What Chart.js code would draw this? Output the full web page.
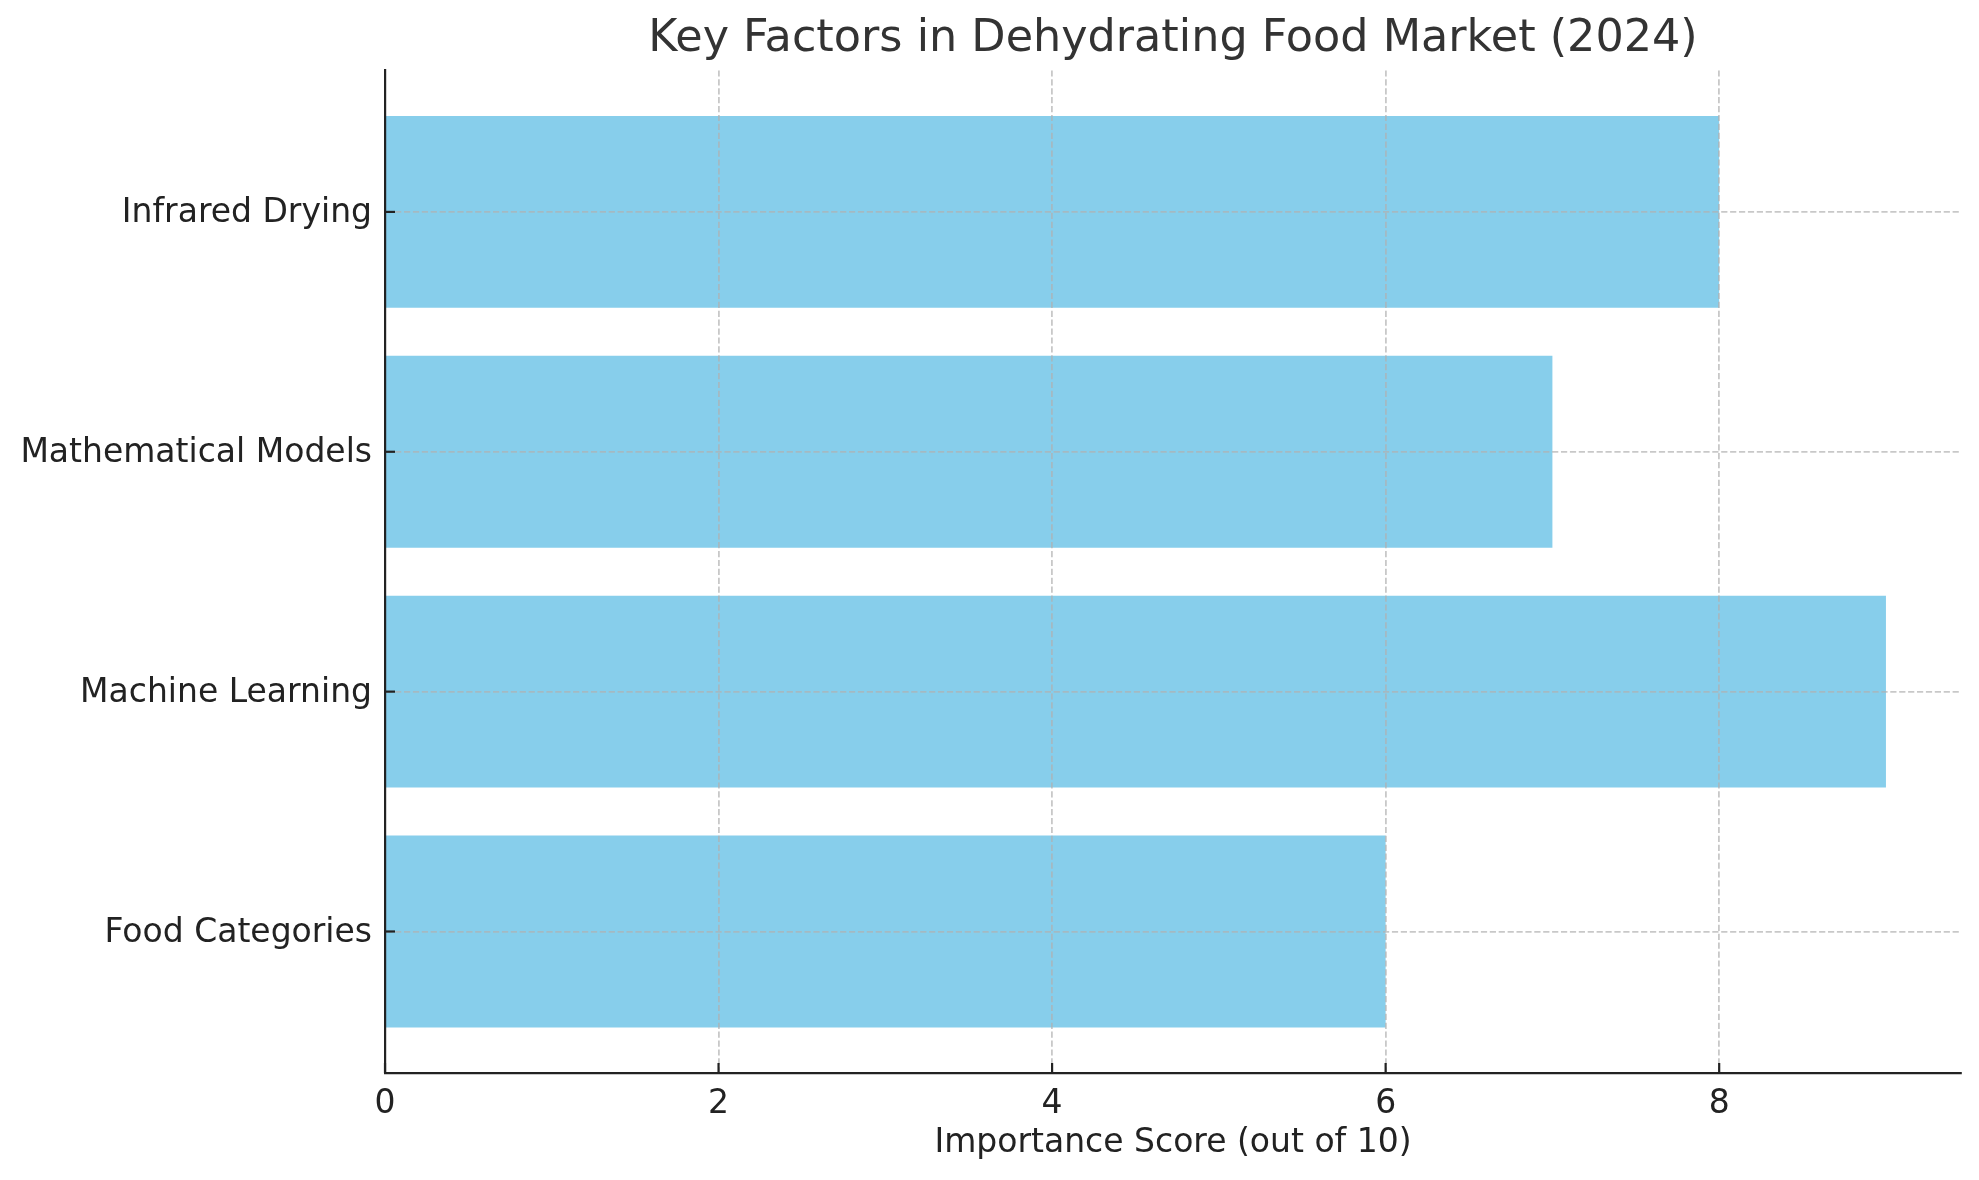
<!DOCTYPE html>
<html>
<head>
<meta charset="utf-8">
<title>Key Factors in Dehydrating Food Market (2024)</title>
<script src="https://cdn.jsdelivr.net/npm/chart.js@4/dist/chart.umd.min.js"></script>
<style>
  html, body { margin: 0; padding: 0; background: #ffffff; }
  #wrap { width: 1979px; height: 1180px; }
</style>
</head>
<body>
<div id="wrap"><canvas id="factorsChart" width="1979" height="1180"></canvas></div>
<script>
"use strict";

// bottom-to-top order, same as the source barh call
const categories = ["Food Categories", "Machine Learning", "Mathematical Models", "Infrared Drying"];
const scores = [6, 9, 7, 8];
const xTicks = [0, 2, 4, 6, 8];
const chartTitle = "Key Factors in Dehydrating Food Market (2024)";
const xLabel = "Importance Score (out of 10)";

const FONT = "'DejaVu Sans', 'Liberation Sans', sans-serif";
const barColor = "#87ceeb";
const gridColor = "rgba(176, 176, 176, 0.7)";
const spineColor = "#222222";
const textColor = "#222222";

// matplotlib style inward tick marks
const inwardTicks = {
  id: "inwardTicks",
  afterDraw(chart) {
    const ctx = chart.ctx;
    const area = chart.chartArea;
    const xs = chart.scales.x;
    const ys = chart.scales.y;
    ctx.save();
    ctx.strokeStyle = spineColor;
    ctx.lineWidth = 2.2;
    xs.ticks.forEach((t) => {
      const px = xs.getPixelForValue(t.value);
      ctx.beginPath();
      ctx.moveTo(px, area.bottom);
      ctx.lineTo(px, area.bottom - 10);
      ctx.stroke();
    });
    ys.ticks.forEach((t) => {
      const py = ys.getPixelForValue(t.value);
      ctx.beginPath();
      ctx.moveTo(area.left, py);
      ctx.lineTo(area.left + 10, py);
      ctx.stroke();
    });
    ctx.restore();
  },
};

const ctx = document.getElementById("factorsChart").getContext("2d");

new Chart(ctx, {
  type: "bar",
  data: {
    datasets: [
      {
        data: categories.map((c, i) => ({ x: scores[i], y: i })),
        backgroundColor: barColor,
        borderWidth: 0,
        barPercentage: 0.8,
        categoryPercentage: 1.0,
      },
    ],
  },
  options: {
    indexAxis: "y",
    responsive: false,
    animation: false,
    devicePixelRatio: 1,
    layout: {
      padding: { left: 0, right: 18, top: 0, bottom: 0 },
    },
    plugins: {
      legend: { display: false },
      tooltip: { enabled: false },
      title: {
        display: true,
        fullSize: false,
        text: chartTitle,
        color: "#333333",
        font: { family: FONT, size: 44.5, weight: "normal", lineHeight: 1.2 },
        padding: { top: 13, bottom: 4 },
      },
    },
    scales: {
      x: {
        type: "linear",
        position: "bottom",
        min: 0,
        max: 9.45,
        afterBuildTicks: (axis) => {
          axis.ticks = xTicks.map((v) => ({ value: v }));
        },
        afterFit: (axis) => {
          axis.height = 107;
        },
        grid: {
          z: 1,
          color: gridColor,
          lineWidth: 1.8,
          drawTicks: false,
        },
        border: {
          z: 2,
          display: true,
          color: spineColor,
          width: 2.2,
          dash: [6.2, 2.7],
        },
        ticks: {
          color: textColor,
          padding: 12,
          font: { family: FONT, size: 33 },
          maxRotation: 0,
        },
        title: {
          display: true,
          text: xLabel,
          color: textColor,
          font: { family: FONT, size: 33 },
          padding: { top: 0, bottom: 17 },
        },
      },
      y: {
        type: "linear",
        position: "left",
        min: -0.59,
        max: 3.59,
        offset: false,
        afterBuildTicks: (axis) => {
          axis.ticks = categories.map((c, i) => ({ value: i }));
        },
        afterFit: (axis) => {
          axis.width = 385;
        },
        grid: {
          z: 1,
          offset: false,
          color: gridColor,
          lineWidth: 1.8,
          drawTicks: false,
        },
        border: {
          z: 2,
          display: true,
          color: spineColor,
          width: 2.2,
          dash: [6.2, 2.7],
        },
        ticks: {
          color: textColor,
          padding: 13,
          labelOffset: 2,
          font: { family: FONT, size: 33 },
          callback: (value) => categories[value],
        },
      },
    },
  },
  plugins: [inwardTicks],
});
</script>
</body>
</html>
